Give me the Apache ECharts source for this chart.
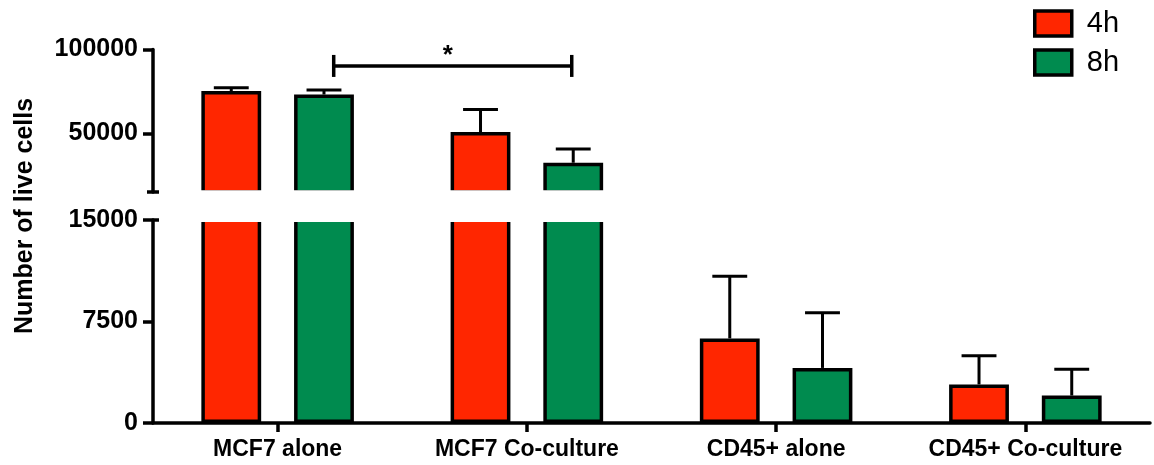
<!DOCTYPE html>
<html><head><meta charset="utf-8">
<script src="https://cdn.jsdelivr.net/npm/echarts@6/dist/echarts.min.js"></script>
<style>html,body{margin:0;padding:0;background:#fff}#c{width:1154px;height:465px}</style>
</head><body><div id="c"></div>
<script>
// ---- data ----
const categories = ['MCF7 alone', 'MCF7 Co-culture', 'CD45+ alone', 'CD45+ Co-culture'];
const seriesNames = ['4h', '8h'];
const values4h = [75200, 50800, 6250, 2850];
const values8h = [73150, 32500, 4070, 2030];
const err4h = [2000, 13400, 4600, 2120];
const err8h = [2700, 8100, 4080, 1940];
const upperTicks = [50000, 100000];
const lowerTicks = [0, 7500, 15000];
const breakValue = 15000;
const upperMax = 100000;
const bracket = [[0, 1, 90200]];
const bracketLabel = '*';
const yTitle = 'Number of live cells';

// ---- styles / layout ----
const FONT = '"Liberation Sans", Arial, Helvetica, sans-serif';
const RED = '#FF2600', GREEN = '#008B4F';
const colors = [RED, GREEN];
const GL = 153, GR = 4;
const upTop = 49.5, upH = 142.5;
const loTop = 220, loH = 203;
const barOffsetFrac = 0.186;
const capFrac = 0.14;

const chart = echarts.init(document.getElementById('c'), null, {renderer: 'canvas'});

const allVals = [values4h, values8h];
const allErr = [err4h, err8h];

function errData(upper) {
  const out = [];
  for (let s = 0; s < 2; s++) {
    allVals[s].forEach((v, i) => {
      if (upper ? v > breakValue : v < breakValue) out.push([i, v, allErr[s][i], s]);
    });
  }
  return out;
}

function errRender(params, api) {
  const cat = api.value(0), v = api.value(1), e = api.value(2), s = api.value(3);
  const band = api.size([1, 0])[0];
  const off = (s === 0 ? -1 : 1) * band * barOffsetFrac;
  const p0 = api.coord([cat, v]);
  const p1 = api.coord([cat, v + e]);
  const x = p0[0] + off;
  const ch = band * capFrac / 2;
  return {type: 'group', children: [
    {type: 'line', shape: {x1: x, y1: p0[1], x2: x, y2: p1[1]}, style: {stroke: '#000', lineWidth: 3}},
    {type: 'line', shape: {x1: x - ch, y1: p1[1], x2: x + ch, y2: p1[1]}, style: {stroke: '#000', lineWidth: 3}}
  ]};
}

function bracketRender(params, api) {
  const a = api.value(0), b = api.value(1), y = api.value(2);
  const band = api.size([1, 0])[0];
  const pa = api.coord([a, y]), pb = api.coord([b, y]);
  const x1 = pa[0] + band * 0.225, x2 = pb[0] + band * 0.18;
  const yy = pa[1];
  return {type: 'group', children: [
    {type: 'line', shape: {x1: x1, y1: yy, x2: x2, y2: yy}, style: {stroke: '#000', lineWidth: 3.5}},
    {type: 'line', shape: {x1: x1, y1: yy - 11, x2: x1, y2: yy + 11}, style: {stroke: '#000', lineWidth: 3.5}},
    {type: 'line', shape: {x1: x2, y1: yy - 11, x2: x2, y2: yy + 11}, style: {stroke: '#000', lineWidth: 3.5}},
    {type: 'text', x: (x1 + x2) / 2 - 5, y: yy - 10, style: {text: bracketLabel, font: 'bold 26px ' + FONT, fill: '#000', align: 'center', verticalAlign: 'middle'}}
  ]};
}

const axisLineStyle = {show: true, lineStyle: {color: '#000', width: 3.5}};
const yLabel = {fontSize: 25, fontWeight: 'bold', fontFamily: FONT, color: '#000', margin: 15, formatter: v => String(v)};

const series = [];
for (let s = 0; s < 2; s++) {
  series.push({
    name: seriesNames[s], type: 'bar', xAxisIndex: 0, yAxisIndex: 0,
    data: allVals[s].map(v => v > breakValue ? v : '-'),
    barWidth: '24%', barGap: '55%', clip: true,
    itemStyle: {color: colors[s], borderColor: '#000', borderWidth: 3.5},
    emphasis: {disabled: true}, animation: false
  });
}
for (let s = 0; s < 2; s++) {
  series.push({
    name: seriesNames[s], type: 'bar', xAxisIndex: 1, yAxisIndex: 1,
    data: allVals[s],
    barWidth: '24%', barGap: '55%', clip: true,
    itemStyle: {color: colors[s], borderColor: '#000', borderWidth: 3.5},
    emphasis: {disabled: true}, animation: false
  });
}
series.push({type: 'custom', xAxisIndex: 0, yAxisIndex: 0, renderItem: errRender, data: errData(true), clip: true, z: 3, animation: false});
series.push({type: 'custom', xAxisIndex: 1, yAxisIndex: 1, renderItem: errRender, data: errData(false), clip: true, z: 3, animation: false});
series.push({type: 'custom', xAxisIndex: 0, yAxisIndex: 0, renderItem: bracketRender, data: bracket, clip: false, z: 3, animation: false});

chart.setOption({
  animation: false,
  backgroundColor: '#fff',
  legend: {
    data: seriesNames, orient: 'vertical', left: 1033, top: 9, padding: 0,
    itemWidth: 37, itemHeight: 25, itemGap: 10, icon: 'rect', selectedMode: false,
    itemStyle: {borderColor: '#000', borderWidth: 3.5},
    textStyle: {fontSize: 29, fontFamily: FONT, color: '#000', padding: [0, 0, 0, 10], lineHeight: 28}
  },
  grid: [
    {left: GL, right: GR, top: upTop, height: upH},
    {left: GL, right: GR, top: loTop, height: loH}
  ],
  xAxis: [
    {type: 'category', gridIndex: 0, data: categories, show: false},
    {type: 'category', gridIndex: 1, data: categories,
     axisLine: axisLineStyle,
     axisTick: {show: true, alignWithLabel: true, interval: 0, length: 9, lineStyle: {color: '#000', width: 3.5}},
     axisLabel: {interval: 0, hideOverlap: false, fontSize: 23, fontWeight: 'bold', fontFamily: FONT, color: '#000', margin: 15}}
  ],
  yAxis: [
    {type: 'value', gridIndex: 0, min: breakValue, max: upperMax,
     axisLine: axisLineStyle, splitLine: {show: false},
     axisTick: {show: true, length: 10, customValues: upperTicks, lineStyle: {color: '#000', width: 3.5}},
     axisLabel: Object.assign({customValues: upperTicks}, yLabel)},
    {type: 'value', gridIndex: 1, min: lowerTicks[0], max: lowerTicks[lowerTicks.length - 1], interval: lowerTicks[1] - lowerTicks[0],
     axisLine: axisLineStyle, splitLine: {show: false},
     axisTick: {show: true, length: 10, lineStyle: {color: '#000', width: 3.5}},
     axisLabel: yLabel}
  ],
  series: series
});

// decorations: break gap mask, axis end caps, y title
const yUpB = chart.convertToPixel({yAxisIndex: 0}, breakValue);
const yLoT = chart.convertToPixel({yAxisIndex: 1}, breakValue);
chart.setOption({
  graphic: [
    {type: 'rect', z: 100, shape: {x: GL + 7, y: yUpB - 1.8, width: 1154 - GL - 7, height: (yLoT + 1.9) - (yUpB - 1.8)}, style: {fill: '#fff'}},
    {type: 'line', z: 101, shape: {x1: GL - 6, y1: yUpB, x2: GL + 6, y2: yUpB}, style: {stroke: '#000', lineWidth: 3.5}},
    {type: 'line', z: 101, shape: {x1: GL, y1: yLoT, x2: GL + 6, y2: yLoT}, style: {stroke: '#000', lineWidth: 3.5}},
    {type: 'text', z: 101, x: 25, y: 216, rotation: Math.PI / 2,
     style: {text: yTitle, font: 'bold 25px ' + FONT, fill: '#000', align: 'center', verticalAlign: 'middle'}}
  ]
});
</script></body></html>
